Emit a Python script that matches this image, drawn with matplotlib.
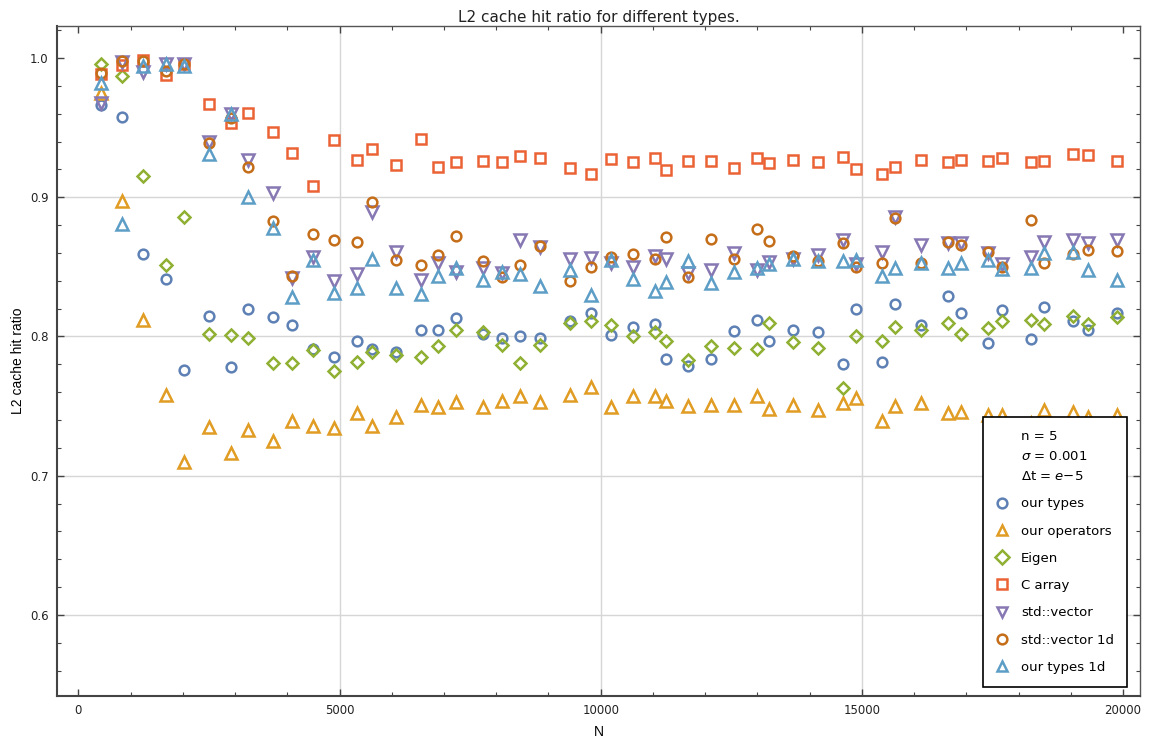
import matplotlib
matplotlib.use("Agg")
import matplotlib.pyplot as plt
from matplotlib.ticker import MultipleLocator

# sample sizes
N = [440, 842, 1233, 1679, 2024, 2502, 2917, 3254, 3721, 4097, 4499, 4900,
     5329, 5628, 6087, 6560, 6891, 7230, 7747, 8105, 8461, 8838, 9413, 9809,
     10203, 10613, 11034, 11244, 11665, 12106, 12546, 12998, 13228, 13687,
     14166, 14644, 14887, 15385, 15628, 16137, 16648, 16903, 17420, 17688,
     18231, 18492, 19047, 19328, 19889]

our_types = [0.966, 0.958, 0.859, 0.841, 0.776, 0.815, 0.778, 0.820, 0.814, 0.808,
             0.791, 0.785, 0.797, 0.791, 0.789, 0.805, 0.805, 0.813, 0.802, 0.799,
             0.800, 0.799, 0.811, 0.817, 0.801, 0.807, 0.809, 0.784, 0.779, 0.784,
             0.804, 0.812, 0.797, 0.805, 0.803, 0.780, 0.820, 0.782, 0.823, 0.808,
             0.829, 0.817, 0.795, 0.819, 0.798, 0.821, 0.811, 0.805, 0.817]

our_operators = [0.975, 0.897, 0.812, 0.758, 0.710, 0.735, 0.716, 0.733, 0.725, 0.739,
                 0.736, 0.734, 0.745, 0.736, 0.742, 0.751, 0.749, 0.753, 0.749, 0.754,
                 0.757, 0.753, 0.758, 0.764, 0.749, 0.757, 0.757, 0.754, 0.750, 0.751,
                 0.751, 0.757, 0.748, 0.751, 0.747, 0.752, 0.756, 0.739, 0.750, 0.752,
                 0.745, 0.746, 0.7435, 0.7435, 0.738, 0.747, 0.746, 0.742, 0.7435]

eigen = [0.9955, 0.987, 0.915, 0.851, 0.8855, 0.802, 0.801, 0.799, 0.781, 0.781,
         0.790, 0.775, 0.782, 0.789, 0.787, 0.785, 0.793, 0.805, 0.803, 0.794,
         0.781, 0.794, 0.810, 0.811, 0.808, 0.8005, 0.803, 0.797, 0.783, 0.793,
         0.792, 0.791, 0.810, 0.796, 0.792, 0.763, 0.8005, 0.797, 0.807, 0.805,
         0.810, 0.802, 0.806, 0.811, 0.812, 0.809, 0.815, 0.809, 0.814]

c_array = [0.9885, 0.995, 0.9986, 0.988, 0.996, 0.967, 0.9535, 0.9607, 0.947, 0.932,
           0.908, 0.941, 0.927, 0.935, 0.923, 0.942, 0.922, 0.925, 0.926, 0.925,
           0.9296, 0.928, 0.921, 0.9164, 0.9274, 0.925, 0.928, 0.9195, 0.926, 0.926,
           0.921, 0.928, 0.9244, 0.9265, 0.9255, 0.929, 0.920, 0.917, 0.922, 0.9267,
           0.9255, 0.9265, 0.926, 0.928, 0.925, 0.926, 0.931, 0.930, 0.926]

std_vector = [0.968, 0.997, 0.990, 0.996, 0.996, 0.940, 0.960, 0.9267, 0.903, 0.842,
              0.857, 0.840, 0.845, 0.8896, 0.861, 0.8405, 0.8525, 0.8465, 0.849, 0.8458,
              0.8693, 0.864, 0.8554, 0.8566, 0.853, 0.850, 0.858, 0.856, 0.8453, 0.8477,
              0.860, 0.8477, 0.8537, 0.856, 0.8585, 0.8693, 0.852, 0.861, 0.886, 0.866,
              0.867, 0.867, 0.860, 0.852, 0.857, 0.868, 0.869, 0.867, 0.869]

std_vector_1d = [0.989, 0.998, 0.998, 0.991, 0.996, 0.9387, 0.957, 0.922, 0.883, 0.8434,
                 0.8736, 0.869, 0.868, 0.8968, 0.855, 0.851, 0.8585, 0.8724, 0.854, 0.8424,
                 0.851, 0.865, 0.840, 0.850, 0.857, 0.859, 0.856, 0.8716, 0.843, 0.870,
                 0.856, 0.877, 0.8685, 0.858, 0.854, 0.867, 0.850, 0.8525, 0.8853, 0.8525,
                 0.8676, 0.866, 0.861, 0.8496, 0.8836, 0.853, 0.859, 0.862, 0.8616]

our_types_1d = [0.982, 0.8805, 0.994, 0.996, 0.994, 0.931, 0.960, 0.900, 0.878, 0.828,
                0.855, 0.831, 0.835, 0.856, 0.835, 0.8305, 0.8434, 0.849, 0.8405, 0.8465,
                0.845, 0.836, 0.848, 0.8297, 0.855, 0.841, 0.833, 0.839, 0.854, 0.8386,
                0.846, 0.849, 0.852, 0.8556, 0.8544, 0.854, 0.855, 0.8436, 0.849, 0.853,
                0.849, 0.8525, 0.855, 0.8484, 0.849, 0.860, 0.861, 0.8477, 0.8405]

labels = ["our types", "our operators", "Eigen", "C array",
          "std::vector", "std::vector 1d", "our types 1d"]
series = [our_types, our_operators, eigen, c_array,
          std_vector, std_vector_1d, our_types_1d]
colors = ["#5E81B5", "#E19C24", "#8FB032", "#EB6235",
          "#8778B3", "#C56E1A", "#5D9EC7"]
markers = ["o", "^", "D", "s", "v", "o", "^"]
msizes = [7, 8.5, 6.5, 6.5, 8.5, 7, 8.5]

grid_x = [5000, 10000, 15000]
grid_y = [0.6, 0.7, 0.8, 0.9]

fig = plt.figure(figsize=(11.5, 7.43), dpi=100)
ax = fig.add_axes([0.0496, 0.0637, 0.9417, 0.9013])

for gx in grid_x:
    ax.axvline(gx, color="#d6d6d6", lw=1, zorder=0)
for gy in grid_y:
    ax.axhline(gy, color="#d6d6d6", lw=1, zorder=0)

for i, (ys, lab) in enumerate(zip(series, labels)):
    ax.plot(N, ys, linestyle="None", marker=markers[i], ms=msizes[i],
            mfc="none", mec=colors[i], mew=1.8, label=lab, zorder=2 + i)

ax.set_xlim(-408, 20324)
ax.set_ylim(0.542, 1.023)
ax.xaxis.set_major_locator(MultipleLocator(5000))
ax.xaxis.set_minor_locator(MultipleLocator(1000))
ax.yaxis.set_major_locator(MultipleLocator(0.1))
ax.yaxis.set_minor_locator(MultipleLocator(0.02))
ax.tick_params(which="both", direction="in", top=True, right=True,
               color="#444444", labelsize=8.5, labelcolor="#222222")
ax.tick_params(which="major", length=5, width=1, pad=6)
ax.tick_params(which="minor", length=3, width=0.8)
ax.yaxis.set_major_formatter(plt.FuncFormatter(lambda v, p: "%.1f" % v))

for side in ["left", "bottom"]:
    ax.spines[side].set_color("#444444")
    ax.spines[side].set_linewidth(1.5)
for side in ["top", "right"]:
    ax.spines[side].set_color("#555555")
    ax.spines[side].set_linewidth(1.0)

ax.set_title("L2 cache hit ratio for different types.", fontsize=11,
             color="#222222", pad=3)
ax.set_xlabel("N", family="Liberation Sans", fontsize=10, labelpad=6)
ax.set_ylabel("L2 cache hit ratio", family="Liberation Sans", fontsize=10, labelpad=4)

leg = ax.legend(loc="lower right", bbox_to_anchor=(0.988, 0.013), borderaxespad=0,
                title="n = 5\n$\\sigma$ = 0.001\nΔt = $e$−5", title_fontsize=9.5,
                fontsize=9.5, numpoints=1, handlelength=1.0, handletextpad=0.9,
                labelspacing=1.08, borderpad=1.0, fancybox=False, framealpha=1,
                edgecolor="black")
leg.get_frame().set_linewidth(1.2)
leg.get_title().set_linespacing(1.7)
for h in leg.legend_handles:
    h.set_markersize(7)

fig.savefig("out.png", dpi=100)
